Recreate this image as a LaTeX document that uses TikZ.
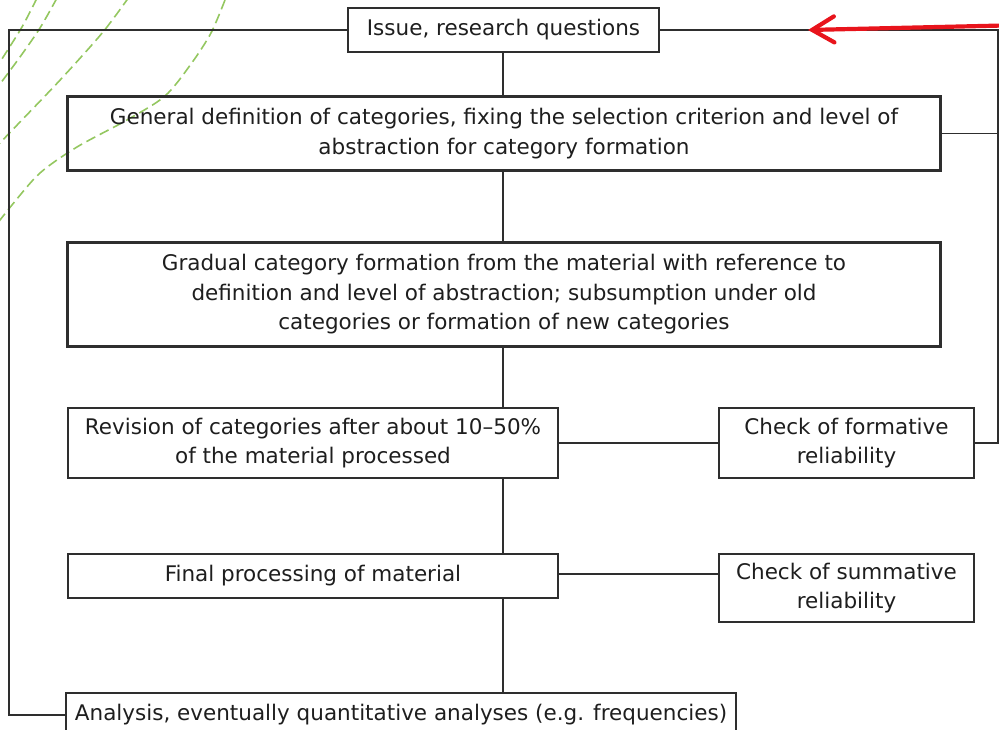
\documentclass[tikz,border=0pt]{standalone}
\usepackage{fontspec}
\setmainfont{DejaVu Sans}
\usetikzlibrary{arrows.meta,calc}
\definecolor{ink}{HTML}{1E1E1E}
\definecolor{linec}{HTML}{2E2E2E}
\definecolor{arrowred}{HTML}{E8141C}
\definecolor{dashgreen}{HTML}{94C760}
\begin{document}
\begin{tikzpicture}[x=1pt,y=-1pt,
  box/.style={draw=linec, line width=2.3pt, inner sep=0pt, align=center, text=ink,
    font=\fontsize{21.5}{29.5}\selectfont},
  conn/.style={draw=linec, line width=1.8pt},
  deco/.style={draw=dashgreen, line width=1.6pt, dash pattern=on 10pt off 5pt},
  redarrow/.style={draw=arrowred, line width=4.2pt, line cap=round,
    -{Straight Barb[length=22pt,width=26pt,line width=4.2pt,line cap=round]}}]
\useasboundingbox (0,0) rectangle (999,730);

% decorative dashed curves
\draw[deco] plot[smooth] coordinates {(37,-2) (22,27) (0,62) (-4,68)};
\draw[deco] plot[smooth] coordinates {(57,-2) (40,28) (20,57) (-3,88)};
\draw[deco] plot[smooth] coordinates {(129,-3) (103,32) (62,78) (20,122) (-3,146)};
\draw[deco] plot[smooth] coordinates {(225,0) (211,33) (191,64) (165,96) (127,120) (77,147) (40,173) (12,205) (-3,224)};

% boxes
\node[box, minimum width=311pt, minimum height=44pt] (issue) at (503.5,30) {Issue, research questions};
\node[box, minimum width=873pt, minimum height=74pt] (gen) at (504,133.5)
  {General definition of categories, fixing the selection criterion and level of\\abstraction for category formation};
\node[box, minimum width=873pt, minimum height=104pt] (grad) at (504,294.5)
  {Gradual category formation from the material with reference to\\definition and level of abstraction; subsumption under old\\categories or formation of new categories};
\node[box, minimum width=490pt, minimum height=70pt] (rev) at (313,443)
  {Revision of categories after about 10–50\%\\of the material processed};
\node[box, minimum width=255pt, minimum height=70pt] (cf) at (846.5,443)
  {Check of formative\\reliability};
\node[box, minimum width=490pt, minimum height=44pt] (fin) at (313,576)
  {Final processing of material};
\node[box, minimum width=255pt, minimum height=68pt] (cs) at (846.5,588)
  {Check of summative\\reliability};
\node[box, minimum width=670pt, minimum height=44pt] (ana) at (401,715)
  {Analysis, eventually quantitative analyses (e.g. frequencies)};

\coordinate (rx) at (998,30);
\coordinate (lx) at (9,30);
\coordinate (mx) at (503,30);

% main chain
\draw[conn] (issue.south -| mx) -- (gen.north -| mx);
\draw[conn] (gen.south -| mx) -- (grad.north -| mx);
\draw[conn] (grad.south -| mx) -- (rev.north -| mx);
\draw[conn] (rev.south -| mx) -- (fin.north -| mx);
\draw[conn] (fin.south -| mx) -- (ana.north -| mx);

% side links
\draw[conn] (rev.east) -- (cf.west);
\draw[conn] ([yshift=2pt]fin.east) -- ([yshift=2pt]fin.east -| cs.west);

% feedback loops
\draw[conn] (issue.east) -- (rx) |- (cf.east);
\draw[conn] (gen.east) -- (gen.east -| rx);
\draw[conn] (issue.west) -- (lx) |- (ana.west);

% red annotation arrow
\coordinate (redstart) at (1004,25.5);
\coordinate (redtip) at (808,30);
\draw[redarrow] (redstart) -- (redtip);
\end{tikzpicture}
\end{document}
